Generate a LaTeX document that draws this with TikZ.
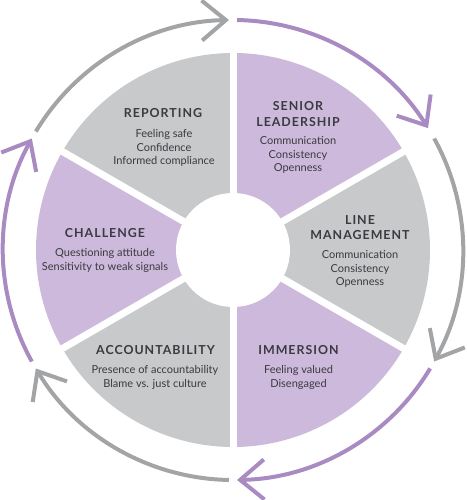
\documentclass[tikz,border=0pt]{standalone}
\usepackage{fontspec}
\setmainfont{Lato}
\newfontfamily\headfont{Lato}[LetterSpace=8]
\usetikzlibrary{arrows.meta}

\definecolor{lilac}{HTML}{CDB9DC}
\definecolor{stone}{HTML}{C7C9CA}
\definecolor{lilacline}{HTML}{A98BC2}
\definecolor{stoneline}{HTML}{A2A4A6}
\definecolor{ink}{HTML}{3A3A40}

\tikzset{
  title/.style={font=\headfont\bfseries\fontsize{12.4}{15.5}\selectfont, align=center, text=ink},
  body/.style={font=\fontsize{11}{13.3}\selectfont, align=center, text=ink},
  cycle/.style={line width=4pt, -{Straight Barb[length=24pt, width=40pt]}}
}

\begin{document}
\begin{tikzpicture}[x=1pt, y=1pt]
    \useasboundingbox (-233,-250) rectangle (233,250);

    % Wheel segments
    \fill[lilac] (0,0) -- (30:197) arc (30:90:197) -- cycle;
    \fill[stone] (0,0) -- (90:197) arc (90:150:197) -- cycle;
    \fill[lilac] (0,0) -- (150:197) arc (150:210:197) -- cycle;
    \fill[stone] (0,0) -- (210:197) arc (210:270:197) -- cycle;
    \fill[lilac] (0,0) -- (270:197) arc (270:330:197) -- cycle;
    \fill[stone] (0,0) -- (330:197) arc (330:390:197) -- cycle;

    % White gaps and hub
    \foreach \a in {30,90,...,330}
        \draw[white, line width=7pt] (0,0) -- (\a:205);
    \fill[white] (0,0) circle (57);

    % Labels
    \node[title] (rep) at (-70,137) {REPORTING};
    \node[body] (rep-b) at (-69,102) {Feeling safe\\Confidence\\Informed compliance};

    \node[title] (lead) at (65,136) {SENIOR\\LEADERSHIP};
    \node[body] (lead-b) at (65,95) {Communication\\Consistency\\Openness};

    \node[title] (line) at (127,22.5) {LINE\\MANAGEMENT};
    \node[body] (line-b) at (127,-19) {Communication\\Consistency\\Openness};

    \node[title] (imm) at (65.5,-100) {IMMERSION};
    \node[body] (imm-b) at (65.5,-127.5) {Feeling valued\\Disengaged};

    \node[title] (acc) at (-77.5,-100) {ACCOUNTABILITY};
    \node[body] (acc-b) at (-78,-127.5) {Presence of accountability\\Blame vs. just culture};

    \node[title] (chal) at (-128,17) {CHALLENGE};
    \node[body] (chal-b) at (-128,-10.5) {Questioning attitude\\Sensitivity to weak signals};

    % Outer cycle arrows
    \draw[cycle, stoneline] (149:230) arc (149:91:230);
    \draw[cycle, lilacline] (89:230) arc (89:32:230);
    \draw[cycle, stoneline] (29:230) arc (29:-29:230);
    \draw[cycle, lilacline] (-31:230) arc (-31:-89:230);
    \draw[cycle, stoneline] (-91:230) arc (-91:-149:230);
    \draw[cycle, lilacline] (-151:230) arc (-151:-209:230);
\end{tikzpicture}
\end{document}
